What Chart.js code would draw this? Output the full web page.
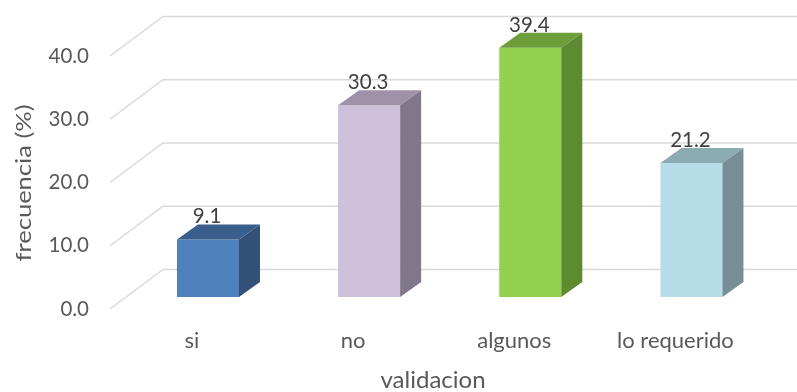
<!DOCTYPE html>
<html><head><meta charset="utf-8">
<script src="https://cdn.jsdelivr.net/npm/chart.js@4/dist/chart.umd.min.js"></script>
<style>html,body{margin:0;padding:0;background:#fff}</style>
</head><body>
<canvas id="c" width="797" height="392"></canvas>
<script>
const categories = ['si', 'no', 'algunos', 'lo requerido'];
const frecuencia = [9.1, 30.3, 39.4, 21.2];
const yTickValues = [0, 10, 20, 30, 40];
const frontColors = ['#4f81bd', '#ccc0da', '#92d050', '#b7dee8'];
const topColors = ['#3a5f8c', '#9e92a8', '#6e9e3c', '#8cacb4'];
const sideColors = ['#325078', '#80788a', '#5e8a30', '#768f96'];
const yTitle = 'frecuencia (%)';
const xTitle = 'validacion';

const FONT = 'Lato, "Open Sans", sans-serif';
const BAR_DX = 21, BAR_DY = 15;
const WALL_FRONT_DX = -17.4, WALL_BACK_DX = 35.6;
const WALL_FRONT_DY = 12, WALL_BACK_DY = -27.5;

const wallPlugin = {
  id: 'wall3d',
  beforeDatasetsDraw(chart) {
    const ctx = chart.ctx, y = chart.scales.y, a = chart.chartArea;
    ctx.save();
    ctx.strokeStyle = '#d9d9d9';
    ctx.lineWidth = 1.5;
    yTickValues.forEach(v => {
      const p = y.getPixelForValue(v);
      ctx.beginPath();
      ctx.moveTo(a.left + WALL_FRONT_DX, p + WALL_FRONT_DY);
      ctx.lineTo(a.left + WALL_BACK_DX, p + WALL_BACK_DY);
      ctx.lineTo(chart.width, p + WALL_BACK_DY);
      ctx.stroke();
    });
    ctx.restore();
  },
  afterDatasetsDraw(chart) {
    const ctx = chart.ctx;
    const meta = chart.getDatasetMeta(0);
    ctx.save();
    meta.data.forEach((el, i) => {
      const L = el.x - el.width / 2, R = el.x + el.width / 2, T = el.y, B = el.base;
      ctx.fillStyle = topColors[i];
      ctx.beginPath();
      ctx.moveTo(L, T); ctx.lineTo(R, T); ctx.lineTo(R + BAR_DX, T - BAR_DY); ctx.lineTo(L + BAR_DX, T - BAR_DY);
      ctx.closePath(); ctx.fill();
      ctx.fillStyle = sideColors[i];
      ctx.beginPath();
      ctx.moveTo(R, T); ctx.lineTo(R + BAR_DX, T - BAR_DY); ctx.lineTo(R + BAR_DX, B - BAR_DY); ctx.lineTo(R, B);
      ctx.closePath(); ctx.fill();
      ctx.fillStyle = '#404040';
      ctx.font = '20.5px ' + FONT;
      ctx.textAlign = 'center';
      ctx.textBaseline = 'alphabetic';
      ctx.fillText(frecuencia[i].toFixed(1), el.x - 1, T - BAR_DY - 1);
    });
    ctx.restore();
  },
  afterDraw(chart) {
    const ctx = chart.ctx;
    ctx.save();
    ctx.fillStyle = '#595959';
    ctx.textAlign = 'center';
    ctx.textBaseline = 'alphabetic';
    ctx.font = '24px ' + FONT;
    ctx.fillText(xTitle, 433, 388);
    ctx.font = '22px ' + FONT;
    ctx.translate(31, 183);
    ctx.rotate(-Math.PI / 2);
    ctx.scale(1.16, 1);
    ctx.fillText(yTitle, 0, 0);
    ctx.restore();
  }
};

new Chart(document.getElementById('c'), {
  type: 'bar',
  data: {
    labels: categories,
    datasets: [{
      data: frecuencia,
      backgroundColor: frontColors,
      borderWidth: 0,
      categoryPercentage: 1,
      barPercentage: 0.385
    }]
  },
  options: {
    responsive: false,
    animation: false,
    devicePixelRatio: 1,
    layout: { padding: { top: 44, right: 25, left: 0, bottom: 0 } },
    plugins: { legend: { display: false }, tooltip: { enabled: false } },
    scales: {
      x: {
        grid: { display: false, drawTicks: false },
        border: { display: false },
        ticks: { color: '#595959', font: { family: FONT, size: 22 }, padding: 31, labelOffset: -16, maxRotation: 0, autoSkip: false },
        afterFit(s) { s.height = 95; s.paddingLeft = 0; s.paddingRight = 0; }
      },
      y: {
        min: 0, max: 40,
        grid: { display: false, drawTicks: false },
        border: { display: false },
        ticks: { stepSize: 10, color: '#595959', font: { family: FONT, size: 20.5 }, padding: 38.4, labelOffset: 12,
          callback: v => Number(v).toFixed(1) },
        afterFit(s) { s.width = 127.4; s.paddingTop = 0; s.paddingBottom = 0; }
      }
    }
  },
  plugins: [wallPlugin]
});
</script>
</body></html>
